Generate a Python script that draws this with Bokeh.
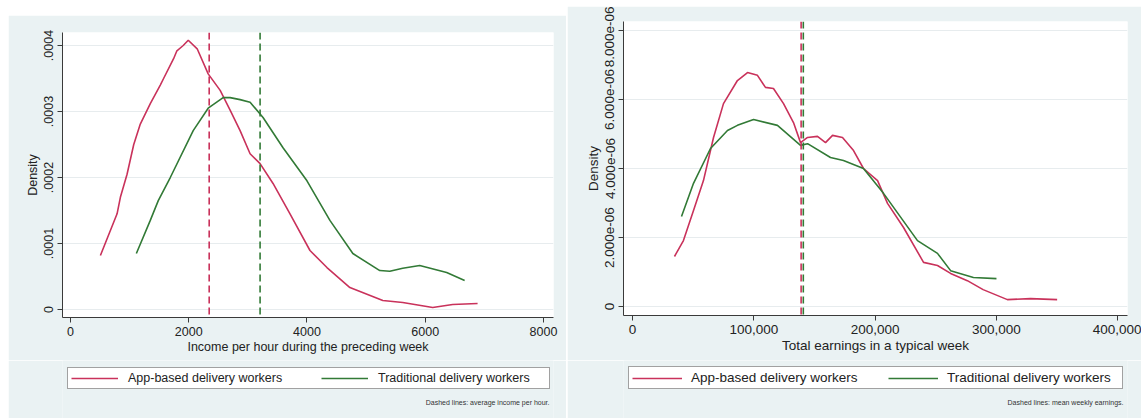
from bokeh.plotting import figure
from bokeh.models import (Range1d, FixedTicker, Span, Legend, LegendItem, Label)
from bokeh.layouts import row, column
from bokeh.embed import file_html
from bokeh.resources import INLINE

# ---------------- data: left panel (income per hour) ----------------
hour_app_x = [506, 788, 844, 957, 1070, 1181, 1350, 1519, 1575, 1744, 1800, 1907, 1992,
              2143, 2329, 2532, 2700, 2869, 3038, 3207, 3426, 3713, 4051, 4338, 4726,
              5283, 5620, 6127, 6464, 6886]
hour_app_y = [0.0000818, 0.000145, 0.000170, 0.000205, 0.000250, 0.000281, 0.000312,
              0.000340, 0.000350, 0.000380, 0.000392, 0.000400, 0.000408, 0.000395,
              0.000357, 0.000332, 0.000302, 0.000271, 0.000236, 0.000221, 0.000191,
              0.000145, 0.0000894, 0.0000636, 0.0000333, 0.0000136, 0.0000106,
              0.0000030, 0.0000076, 0.0000091]
hour_trad_x = [1114, 1350, 1485, 1688, 2076, 2329, 2582, 2700, 2869, 3038, 3257, 3595,
               4000, 4388, 4776, 5232, 5401, 5620, 5907, 6363, 6667]
hour_trad_y = [0.0000848, 0.000135, 0.000165, 0.000200, 0.000271, 0.000305, 0.000321,
               0.000321, 0.000318, 0.000314, 0.000291, 0.000245, 0.000195, 0.000135,
               0.0000848, 0.0000590, 0.0000580, 0.0000626, 0.0000667, 0.0000561,
               0.0000440]
hour_means = [2346, 3207]          # app, traditional
hour_xticks = [0, 2000, 4000, 6000, 8000]
hour_xlabels = ["0", "2000", "4000", "6000", "8000"]
hour_yticks = [0.0, 0.0001, 0.0002, 0.0003, 0.0004]
hour_ylabels = ["0", ".0001", ".0002", ".0003", ".0004"]

# ---------------- data: right panel (weekly earnings) ----------------
week_app_x = [34600, 42000, 50300, 58500, 66800, 75000, 86500, 94800, 103000, 109600,
              116200, 124500, 132700, 138500, 144300, 152500, 159100, 164900, 173100,
              182200, 190400, 202000, 210200, 223400, 239900, 251400, 262200, 276000,
              289000, 309000, 328000, 350000]
week_app_y = [1.45e-6, 1.91e-6, 2.78e-6, 3.65e-6, 4.90e-6, 5.88e-6, 6.55e-6, 6.78e-6,
              6.70e-6, 6.35e-6, 6.32e-6, 5.88e-6, 5.33e-6, 4.75e-6, 4.90e-6, 4.93e-6,
              4.75e-6, 4.96e-6, 4.90e-6, 4.52e-6, 4.00e-6, 3.65e-6, 2.99e-6, 2.29e-6,
              1.28e-6, 1.19e-6, 0.96e-6, 0.75e-6, 0.49e-6, 0.20e-6, 0.23e-6, 0.20e-6]
week_trad_x = [40400, 50300, 64300, 78300, 86500, 99800, 119500, 138500, 144300, 163200,
               173900, 190400, 206900, 234900, 251400, 262200, 281000, 300000]
week_trad_y = [2.61e-6, 3.57e-6, 4.58e-6, 5.10e-6, 5.25e-6, 5.42e-6, 5.25e-6, 4.67e-6,
               4.72e-6, 4.32e-6, 4.23e-6, 4.00e-6, 3.28e-6, 1.91e-6, 1.54e-6, 1.04e-6,
               0.84e-6, 0.81e-6]
week_means = [139000, 140800]      # app, traditional
week_xticks = [0, 100000, 200000, 300000, 400000]
week_xlabels = ["0", "100,000", "200,000", "300,000", "400,000"]
week_yticks = [0.0, 2e-6, 4e-6, 6e-6, 8e-6]
week_ylabels = ["0", "2.000e-06", "4.000e-06", "6.000e-06", "8.000e-06"]

series_names = ["App-based delivery workers", "Traditional delivery workers"]
RED = "#C9325B"
GREEN = "#327A36"
BG = "#EAF2F3"
FONT = "Liberation Sans"


def main_plot(width, height, borders, xr, yr, fs, xticks, xlabels, yticks, ylabels,
              xtitle, curves, means, margin):
    bl, br, bt, bb = borders
    p = figure(width=width, height=height, x_range=Range1d(*xr), y_range=Range1d(*yr),
               output_backend="svg", toolbar_location=None,
               min_border_left=bl, min_border_right=br, min_border_top=bt,
               min_border_bottom=bb, margin=margin)
    p.title.visible = False
    p.background_fill_color = "white"
    p.border_fill_color = BG
    p.outline_line_color = None
    p.xgrid.visible = False
    p.ygrid.grid_line_color = "#E7ECEE"
    p.ygrid.grid_line_width = 1

    for ax, ticks, labels in ((p.xaxis, xticks, xlabels), (p.yaxis, yticks, ylabels)):
        ax.ticker = FixedTicker(ticks=ticks)
        ax.major_label_overrides = dict(zip(ticks, labels))
        ax.axis_line_color = "#3A3A3A"
        ax.major_tick_line_color = "#3A3A3A"
        ax.major_tick_in = 0
        ax.major_tick_out = 5
        ax.minor_tick_line_color = None
        ax.major_label_text_font = FONT
        ax.major_label_text_font_size = fs
        ax.major_label_text_color = "#222222"
        ax.major_label_standoff = 4
        ax.axis_label_text_font = FONT
        ax.axis_label_text_font_size = fs
        ax.axis_label_text_font_style = "normal"
        ax.axis_label_text_color = "#222222"
    p.xaxis.axis_label = xtitle
    p.xaxis.axis_label_standoff = 1
    p.yaxis.axis_label = "Density"
    p.yaxis.axis_label_standoff = 2
    p.yaxis.major_label_orientation = "vertical"

    for (xs, ys), col in zip(curves, (RED, GREEN)):
        p.line(xs, ys, line_color=col, line_width=1.6)
    for m, col in zip(means, (RED, GREEN)):
        p.add_layout(Span(location=m, dimension="height", line_color=col,
                          line_width=1.6, line_dash="7 4"))
    return p


def legend_strip(width, height, fs, leg, leg_xy, note, note_xy, margin):
    # the strip's frame is aligned by the column with the main plot's frame
    q = figure(width=width, height=height, x_range=Range1d(0, 1), y_range=Range1d(0, 1),
               output_backend="svg", toolbar_location=None, min_border=0,
               x_axis_type=None, y_axis_type=None, margin=margin)
    q.title.visible = False
    q.background_fill_color = BG
    q.border_fill_color = BG
    q.outline_line_color = None
    q.grid.visible = False
    # legend-only renderers, placed outside the strip's visible range
    rends = [q.line(x=[5, 6], y=[5, 6], line_color=c, line_width=1.6)
             for c in (RED, GREEN)]
    gw, gs, lw, sp = leg
    legend = Legend(items=[LegendItem(label=n, renderers=[r])
                           for n, r in zip(series_names, rends)],
                    orientation="horizontal", location=leg_xy,
                    glyph_width=gw, glyph_height=14, label_standoff=gs,
                    label_width=lw, label_height=14, spacing=sp, padding=3,
                    margin=0, border_line_color="#444444", border_line_width=1,
                    background_fill_color="white", background_fill_alpha=1,
                    label_text_font=FONT, label_text_font_size=fs,
                    label_text_color="#222222")
    q.add_layout(legend, "center")
    q.add_layout(Label(x=note_xy[0], y=note_xy[1], x_units="screen", y_units="screen",
                       text=note, text_align="right", text_baseline="middle",
                       text_font=FONT, text_font_size="7px", text_color="#333333"))
    return q


left_main = main_plot(558, 345, (54, 13, 17, 43), (-135, 8170), (-0.0000121, 0.0004197),
                      "12.5px", hour_xticks, hour_xlabels, hour_yticks, hour_ylabels,
                      "Income per hour during the preceding week",
                      [(hour_app_x, hour_app_y), (hour_trad_x, hour_trad_y)], hour_means,
                      (15, 0, 0, 8))
left_leg = legend_strip(558, 58, "12.5px", (47, 10, 168, 25), (5, 29),
                        "Dashed lines: average income per hour.", (487, 16),
                        (0, 0, 0, 8))

right_main = main_plot(574, 354, (56, 14, 15, 45), (-7400, 408000), (-0.26e-6, 8.26e-6),
                       "13.5px", week_xticks, week_xlabels, week_yticks, week_ylabels,
                       "Total earnings in a typical week",
                       [(week_app_x, week_app_y), (week_trad_x, week_trad_y)], week_means,
                       (6, 0, 0, 1))
right_leg = legend_strip(574, 58, "13.5px", (50, 9, 172, 25), (5, 29),
                         "Dashed lines: mean weekly earnings.", (500, 16),
                         (0, 0, 0, 1))

layout = row(column(left_main, left_leg), column(right_main, right_leg))
open("out.html", "w").write(file_html(layout, INLINE))
